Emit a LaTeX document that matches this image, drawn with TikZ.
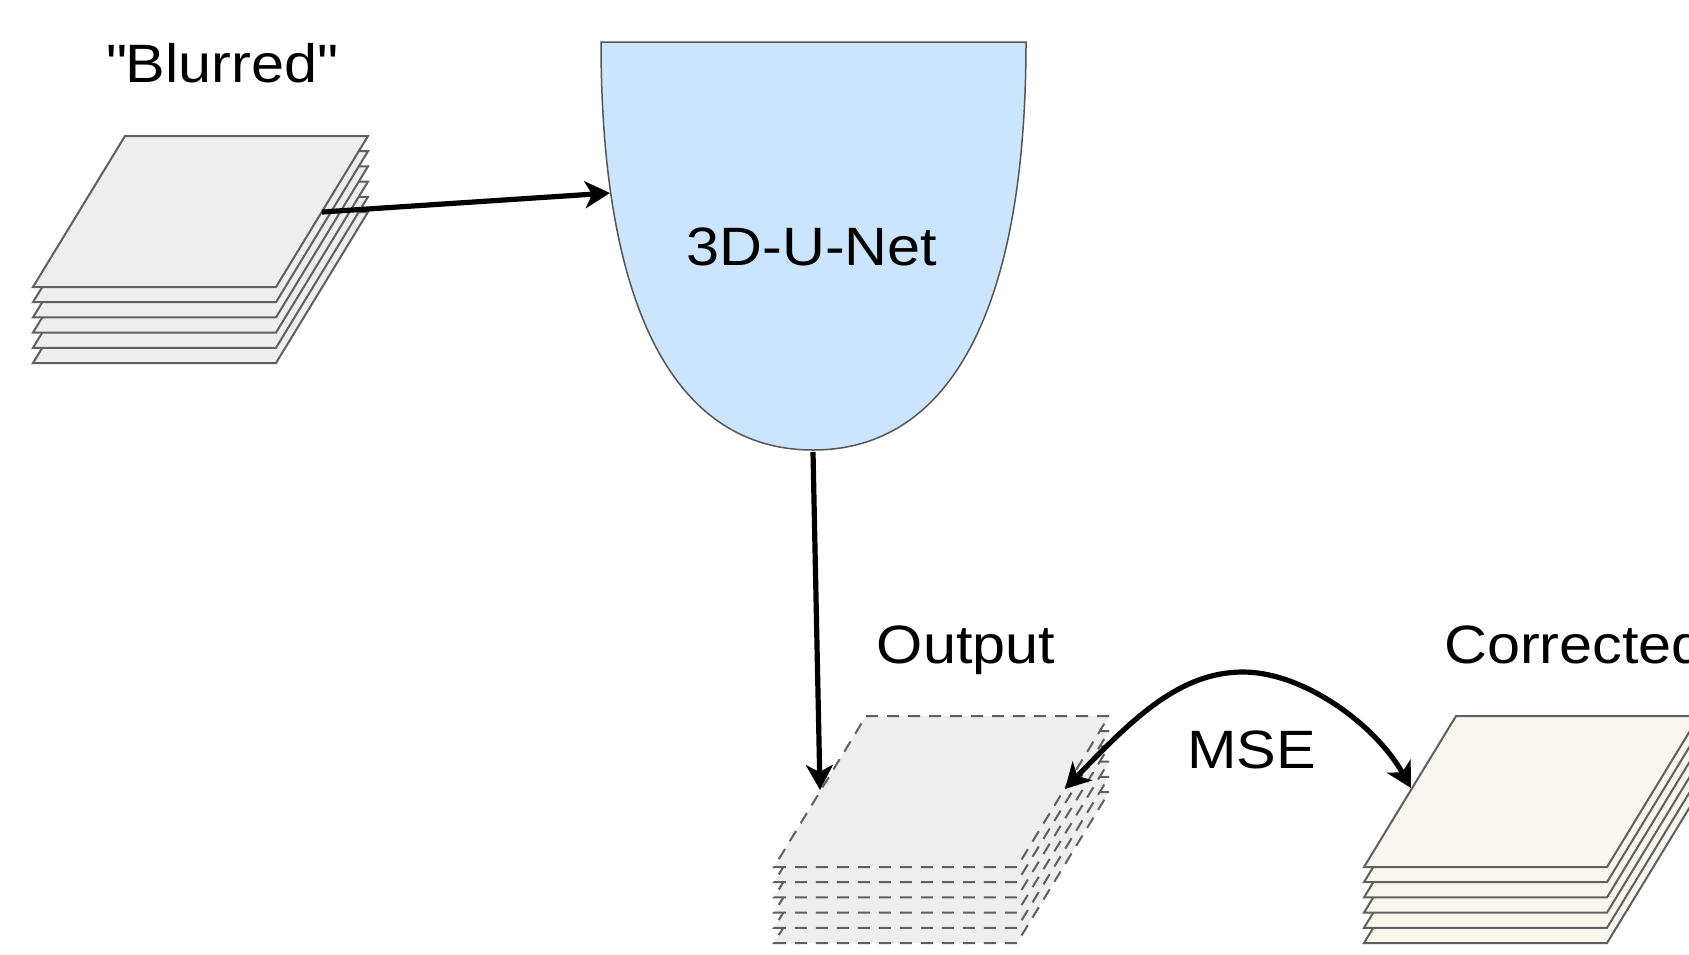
\documentclass[tikz,border=0pt]{standalone}
\usepackage{fontspec}
\setmainfont{Liberation Sans}[FakeStretch=1.1]
\usetikzlibrary{arrows.meta}

\definecolor{sheetgray}{HTML}{EEEEEE}
\definecolor{sheetcream}{HTML}{F9F7ED}
\definecolor{edgegray}{HTML}{5F5F5F}
\definecolor{netblue}{HTML}{CCE5FF}
\definecolor{netedge}{HTML}{555555}

% straight double quote, set as a glyph so no TeX mapping curls it
\newcommand\straightdq{\XeTeXglyph\the\XeTeXcharglyph"22\relax}

\tikzset{
  x=1pt, y=-1pt,
  lbl/.style={font=\fontsize{54}{60}\selectfont, anchor=base, inner sep=0pt},
  flow/.style={line width=5.2pt, -{Stealth[length=25pt,width=27pt,inset=7pt]}},
  bothflow/.style={line width=5.2pt, {Stealth[length=25pt,width=27pt,inset=7pt]}-{Stealth[length=25pt,width=27pt,inset=7pt]}},
  sheet/.style={draw=edgegray, line width=2pt, line join=miter},
  dashedsheet/.style={dash pattern=on 12pt off 9pt},
  % a stack of six slices, drawn from the bottom one up
  pics/slices/.style={code={
    \foreach \k in {5,4,3,2,1,0}{
      \path[sheet,pic actions] (0,15.2*\k) -- ++(243,0) -- ++(-92,151) -- ++(-243,0) -- cycle;
    }
  }},
}

\begin{document}
\begin{tikzpicture}
\useasboundingbox (0,0) rectangle (1689,954);
\fill[white] (0,0) rectangle (1689,954);
\clip (0,0) rectangle (1689,954);

% image stacks
\pic[fill=sheetgray] (blurred) at (125,136) {slices};
\pic[fill=sheetgray, dashedsheet] (output) at (866,716) {slices};
\pic[fill=sheetcream] (corrected) at (1456,716) {slices};

% network body
\draw[fill=netblue, draw=netedge, line width=1.5pt]
  (601,42) -- (1026,42) .. controls (1026,310) and (950,450) .. (813,450)
  .. controls (676,450) and (601,310) .. (601,42) -- cycle;

% labels
\node[lbl] (tBlurred) at (221.5,82) {\straightdq Blurred\straightdq};
\node[lbl] (tNet) at (812,265) {3D-U-Net};
\node[lbl] (tOut) at (966,663) {Output};
\node[lbl, anchor=base west] (tCorr) at (1444,663) {Corrected};
\node[lbl] (tMSE) at (1251.5,768) {MSE};

% connector end points
\coordinate (blurOut) at (322,212);
\coordinate (netIn) at (610,193);
\coordinate (netOut) at (813,452);
\coordinate (outIn) at (820,790);
\coordinate (outRight) at (1065,789);
\coordinate (arcTop) at (1243,672);
\coordinate (corrLeft) at (1411,788);

\draw[flow] (blurOut) -- (netIn);
\draw[flow] (netOut) -- (outIn);
\draw[bothflow]
  (outRight) .. controls (1133,718) and (1180,672) .. (arcTop)
  .. controls (1303,672) and (1375,724) .. (corrLeft);
\end{tikzpicture}
\end{document}
